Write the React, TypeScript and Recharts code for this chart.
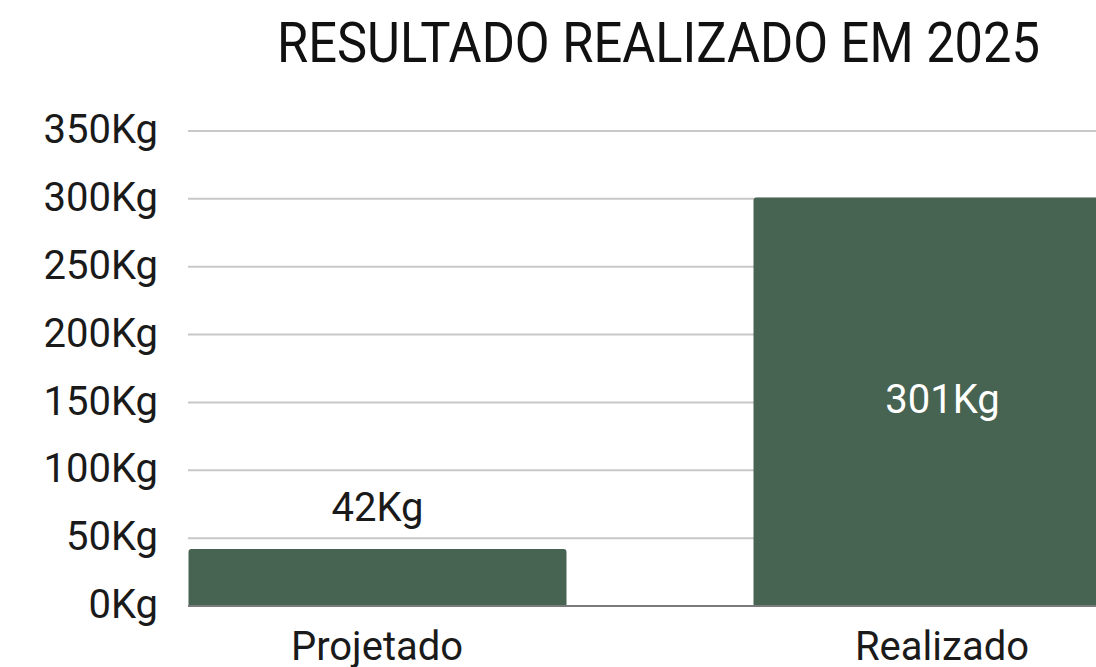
import React from 'react';
import { BarChart, Bar, XAxis, YAxis, CartesianGrid, LabelList } from 'recharts';

const categories = ['Projetado', 'Realizado'];
const values = [42, 301];
const yTicks = [0, 50, 100, 150, 200, 250, 300, 350];
const title = 'RESULTADO REALIZADO EM 2025';

const data = categories.map((name, i) => ({ name, value: values[i] }));

const FONT = 'Roboto, "Noto Sans", sans-serif';
const BAR_COLOR = '#476352';

const fmt = (v: number) => `${v}Kg`;

// small bars get the label above, tall ones get it inside (white)
const renderLabel = (props: any) => {
  const { x, y, width, height, value } = props;
  const cx = x + width / 2;
  if (height < 100) {
    return (
      <text x={cx} y={y - 28} textAnchor="middle" fill="#1a1a1a" fontSize={40} fontFamily={FONT}>
        {fmt(value)}
      </text>
    );
  }
  return (
    <text x={cx} y={y + height / 2 + 11} textAnchor="middle" fill="#ffffff" fontSize={40} fontFamily={FONT}>
      {fmt(value)}
    </text>
  );
};

export default function App() {
  return (
    <div style={{ position: 'absolute', left: 0, top: 0, width: 1096, height: 667, overflow: 'hidden', background: '#fff' }}>
      <div style={{ position: 'absolute', left: 0, top: 0 }}>
        <BarChart width={1200} height={667} data={data}
          margin={{ top: 131, right: 69, bottom: 0, left: 0 }}>
          <CartesianGrid vertical={false} stroke="#c8c8c8" strokeWidth={2} />
          <XAxis dataKey="name" height={61} padding={{ left: -93.5, right: -93.5 }}
            axisLine={{ stroke: '#7a7a7a', strokeWidth: 2 }} tickLine={false}
            tickSize={0} tickMargin={26}
            tick={{ fontSize: 40, fontFamily: FONT, fill: '#1a1a1a' }} />
          <YAxis width={188} domain={[0, 350]} ticks={yTicks} tickFormatter={fmt}
            axisLine={false} tickLine={false} tickSize={0} tickMargin={30}
            tick={{ fontSize: 40, fontFamily: FONT, fill: '#1a1a1a', dy: -2 }} />
          <Bar dataKey="value" fill={BAR_COLOR} barSize={378} radius={[3, 3, 0, 0]} isAnimationActive={false}>
            <LabelList dataKey="value" content={renderLabel} />
          </Bar>
        </BarChart>
      </div>
      <svg width={1096} height={110} style={{ position: 'absolute', left: 0, top: 0 }}>
        <text x={277} y={62} fontSize={55} fontWeight={400} fontFamily={FONT} fill="#111"
          textLength={763} lengthAdjust="spacingAndGlyphs">
          {title}
        </text>
      </svg>
    </div>
  );
}
